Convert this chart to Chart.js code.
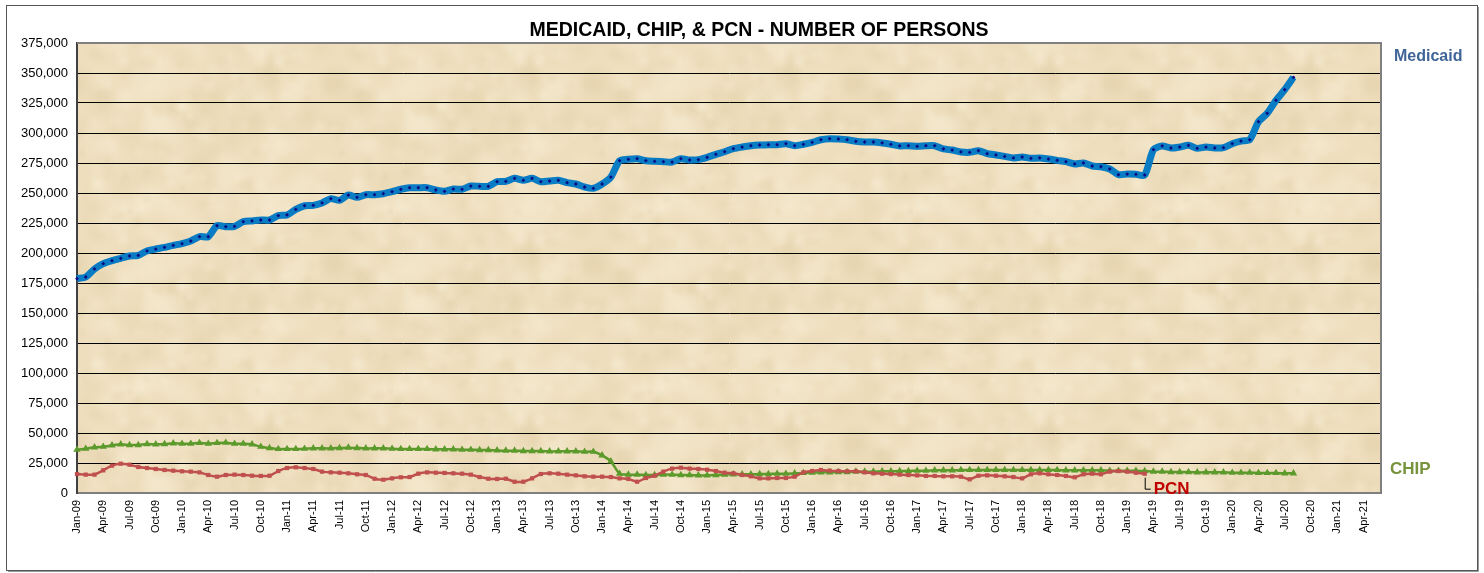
<!DOCTYPE html>
<html>
<head>
<meta charset="utf-8">
<title>Medicaid, CHIP, & PCN - Number of Persons</title>
<script src="https://cdn.jsdelivr.net/npm/chart.js@4.4.0/dist/chart.umd.min.js"></script>
<style>
  html, body { margin: 0; padding: 0; background: #fff; }
  #wrap { width: 1484px; height: 573px; }
</style>
</head>
<body>
<div id="wrap"><canvas id="personsChart" width="1484" height="573"></canvas></div>
<script>
// monthly categories Jan-09 .. Jun-21
const monthNames = ['Jan', 'Feb', 'Mar', 'Apr', 'May', 'Jun', 'Jul', 'Aug', 'Sep', 'Oct', 'Nov', 'Dec'];
const years = ['09', '10', '11', '12', '13', '14', '15', '16', '17', '18', '19', '20', '21'];
const categories = [];
years.forEach(yy => monthNames.forEach(m => categories.push(m + '-' + yy)));
categories.length = 150;

const yTicks = [0, 25000, 50000, 75000, 100000, 125000, 150000, 175000, 200000, 225000, 250000, 275000, 300000, 325000, 350000, 375000];

// Jan-09 .. Aug-20
const medicaid = [
  178600, 180000, 186700, 191100, 193600, 195600, 197500, 198100, 201700, 203300, 204700, 206400,
  207800, 210000, 213600, 213600, 222800, 221900, 222200, 226100, 226700, 227500, 227500, 231100,
  231700, 236400, 239400, 239700, 241700, 245300, 243900, 248300, 246400, 248600, 248600, 249400,
  251100, 253100, 254400, 254400, 254400, 252500, 251400, 253300, 253100, 255800, 255600, 255600,
  259400, 259700, 262200, 260600, 262200, 259400, 260000, 260600, 258600, 257500, 255000, 253900,
  257500, 263300, 276900, 278100, 278600, 276900, 276400, 276100, 275800, 278600, 277500, 277800,
  279700, 282200, 284400, 286900, 288300, 289400, 290000, 290300, 290300, 291100, 289400, 290600,
  292200, 294400, 295300, 295000, 294400, 293100, 292500, 292500, 291700, 290600, 289200, 289400,
  288900, 289400, 289400, 286700, 285800, 284200, 283900, 285300, 282800, 281700, 280500, 279200,
  280000, 278900, 279200, 278300, 277200, 276100, 274200, 275000, 272500, 271900, 270000, 265300,
  265800, 265600, 265000, 286100, 289200, 287500, 288300, 289700, 287200, 288300, 287500, 287800,
  291100, 293300, 294400, 309400, 316400, 327200, 336100, 346400
];

// Jan-09 .. Aug-20
const chip = [
  36100, 36900, 38100, 38600, 39700, 40600, 40000, 40000, 40800, 40600, 40800, 41400,
  41100, 41100, 41700, 41100, 41700, 41900, 41100, 41100, 40600, 38600, 37500, 36700,
  36700, 36700, 36900, 37200, 37200, 37200, 37500, 37800, 37500, 37200, 37200, 37200,
  36900, 36700, 36700, 36700, 36700, 36400, 36400, 36400, 36100, 36100, 35800, 35800,
  35500, 35300, 35300, 35000, 35000, 35000, 34700, 34700, 34700, 34700, 34400, 34400,
  31400, 26400, 16100, 15300, 15300, 15000, 15000, 15300, 15300, 15000, 15000, 14700,
  14700, 15000, 15300, 15600, 15600, 15600, 15800, 15800, 16100, 16100, 16400, 16700,
  16900, 17200, 17200, 17500, 17500, 17800, 17800, 17800, 18100, 18100, 18300, 18300,
  18600, 18600, 18900, 18900, 18900, 19200, 19200, 19200, 19200, 19200, 19200, 19200,
  19200, 19200, 19200, 19200, 19200, 18900, 18900, 18900, 18900, 18900, 18600, 18600,
  18600, 18600, 18300, 17800, 17800, 17500, 17500, 17500, 17200, 17200, 17200, 17200,
  16900, 16900, 16900, 16700, 16700, 16700, 16400, 16400
];

// Jan-09 .. Mar-19
const pcn = [
  15800, 15300, 15300, 18900, 22800, 24400, 23600, 21700, 20800, 20000, 19200, 18600,
  18100, 17800, 17200, 15000, 13600, 15000, 15300, 15000, 14400, 14200, 14400, 18300,
  20800, 21400, 20800, 20000, 17800, 17200, 16900, 16400, 15600, 15000, 11900, 11100,
  12200, 13100, 13300, 16100, 17200, 16900, 16700, 16400, 16100, 15300, 13300, 11900,
  11700, 11900, 9400, 9400, 12200, 15800, 16400, 16100, 15300, 14700, 13900, 13600,
  13600, 13300, 12200, 11700, 9400, 12500, 14400, 17800, 20300, 21100, 20300, 20000,
  19400, 18300, 16900, 16400, 15000, 13900, 12200, 12200, 12500, 12500, 13600, 17200,
  18300, 19200, 18600, 18300, 18100, 18100, 17200, 16400, 16100, 15800, 15300, 15000,
  14700, 14200, 14200, 13900, 13900, 13600, 11400, 14400, 14700, 14400, 13900, 13300,
  12200, 15600, 16400, 15600, 15000, 14200, 13100, 15600, 16100, 15600, 17800, 18300,
  17800, 16900, 16100
];

const FONT = '"Liberation Sans", Arial, sans-serif';
const TITLE = 'MEDICAID, CHIP, & PCN - NUMBER OF PERSONS';

// seamless parchment tile
function makeParchment() {
  const w = 260, h = 180;
  const c = document.createElement('canvas');
  c.width = w; c.height = h;
  const g = c.getContext('2d');
  g.fillStyle = '#EEDEBD';
  g.fillRect(0, 0, w, h);
  let seed = 23;
  const rnd = () => (seed = (seed * 16807) % 2147483647) / 2147483647;
  for (let i = 0; i < 260; i++) {
    const x = rnd() * w, y = rnd() * h, r = 4 + rnd() * 18;
    const light = rnd() > 0.45;
    const col = light ? '247,237,213' : '222,202,160';
    const alpha = light ? 0.35 : 0.22;
    for (let dx = -w; dx <= w; dx += w) {
      for (let dy = -h; dy <= h; dy += h) {
        const cx = x + dx, cy = y + dy;
        const grad = g.createRadialGradient(cx, cy, 0, cx, cy, r);
        grad.addColorStop(0, 'rgba(' + col + ',' + alpha + ')');
        grad.addColorStop(1, 'rgba(' + col + ',0)');
        g.fillStyle = grad;
        g.fillRect(cx - r, cy - r, r * 2, r * 2);
      }
    }
  }
  return c;
}
const parchmentTile = makeParchment();

const framePlugin = {
  id: 'frame',
  beforeDraw(chart) {
    const ctx = chart.ctx;
    const a = chart.chartArea;
    ctx.save();
    ctx.fillStyle = '#fff';
    ctx.fillRect(0, 0, chart.width, chart.height);
    ctx.strokeStyle = '#555';
    ctx.lineWidth = 1;
    ctx.strokeRect(6.5, 5.5, 1471, 565);
    ctx.strokeStyle = '#999';
    ctx.beginPath();
    ctx.moveTo(8, 571.5); ctx.lineTo(1478.5, 571.5); ctx.lineTo(1478.5, 7);
    ctx.stroke();
    ctx.fillStyle = ctx.createPattern(parchmentTile, 'repeat');
    ctx.fillRect(a.left, a.top, a.right - a.left, a.bottom - a.top);
    ctx.restore();
  },
  afterDraw(chart) {
    const ctx = chart.ctx;
    const a = chart.chartArea;
    const xs = chart.scales.x, ys = chart.scales.y;
    ctx.save();
    // top and right edges of the plot
    ctx.strokeStyle = '#808080';
    ctx.lineWidth = 2;
    ctx.beginPath();
    ctx.moveTo(a.left, a.top);
    ctx.lineTo(a.right, a.top);
    ctx.lineTo(a.right, a.bottom);
    ctx.stroke();

    // title
    ctx.textAlign = 'center';
    ctx.textBaseline = 'middle';
    ctx.fillStyle = '#000';
    ctx.font = 'bold 19.5px ' + FONT;
    ctx.fillText(TITLE, 759, 31);

    // series names at the right
    ctx.textAlign = 'left';
    ctx.font = 'bold 16px ' + FONT;
    ctx.fillStyle = '#3F6497';
    ctx.fillText('Medicaid', a.right + 13, ys.getPixelForValue(364000));
    ctx.font = 'bold 17px ' + FONT;
    ctx.fillStyle = '#77933C';
    ctx.fillText('CHIP', a.right + 9, ys.getPixelForValue(20000));

    // PCN label with leader from its last point
    const last = pcn.length - 1;
    const px = xs.getPixelForValue(last), py = ys.getPixelForValue(pcn[last]);
    ctx.strokeStyle = '#000';
    ctx.lineWidth = 1;
    ctx.beginPath();
    ctx.moveTo(px + 0.5, py + 4);
    ctx.lineTo(px + 0.5, py + 15.5);
    ctx.lineTo(px + 6, py + 15.5);
    ctx.stroke();
    ctx.font = 'bold 17px ' + FONT;
    ctx.fillStyle = '#C00000';
    ctx.fillText('PCN', px + 9, py + 16);
    ctx.restore();
  }
};

new Chart(document.getElementById('personsChart'), {
  type: 'line',
  data: {
    labels: categories,
    datasets: [
      {
        label: 'Medicaid',
        data: medicaid,
        borderColor: '#0A7CC3',
        borderWidth: 7,
        pointStyle: 'rectRot',
        pointRadius: 1.9,
        pointBackgroundColor: '#0A0A85',
        pointBorderWidth: 0,
        tension: 0.25,
        order: 1
      },
      {
        label: 'PCN',
        data: pcn,
        borderColor: '#C0504D',
        borderWidth: 2.5,
        pointStyle: 'rect',
        pointRadius: 3,
        pointBackgroundColor: '#C0504D',
        pointBorderWidth: 0,
        tension: 0.25,
        order: 2
      },
      {
        label: 'CHIP',
        data: chip,
        borderColor: '#5C9A2C',
        borderWidth: 2.5,
        pointStyle: 'triangle',
        pointRadius: 4.3,
        pointBackgroundColor: '#5C9A2C',
        pointBorderWidth: 0,
        tension: 0.25,
        order: 3
      }
    ]
  },
  options: {
    responsive: false,
    animation: false,
    devicePixelRatio: 1,
    layout: { padding: { left: 0, right: 103, top: 43, bottom: 0 } },
    plugins: {
      legend: { display: false },
      tooltip: { enabled: false },
      title: { display: false }
    },
    scales: {
      x: {
        type: 'category',
        offset: false,
        grid: { display: false, drawTicks: false },
        border: { color: '#7F7F7F', width: 2 },
        ticks: {
          autoSkip: false,
          minRotation: 90,
          maxRotation: 90,
          padding: 7,
          color: '#000',
          font: { family: FONT, size: 11 },
          callback: (v, i) => (i % 3 === 0 ? categories[i] : '')
        },
        afterFit: s => { s.height = 80; }
      },
      y: {
        min: yTicks[0],
        max: yTicks[yTicks.length - 1],
        afterBuildTicks: s => { s.ticks = yTicks.map(v => ({ value: v })); },
        grid: { color: '#000', lineWidth: 1, drawTicks: false },
        border: { color: '#404040', width: 2 },
        ticks: {
          padding: 9,
          color: '#000',
          font: { family: FONT, size: 13 },
          callback: v => v.toLocaleString('en-US')
        },
        afterFit: s => { s.width = 77; }
      }
    }
  },
  plugins: [framePlugin]
});
</script>
</body>
</html>
